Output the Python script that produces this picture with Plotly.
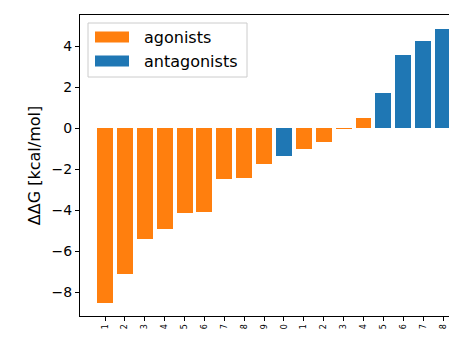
import plotly.graph_objects as go

# Data
tick_labels = ["1", "2", "3", "4", "5", "6", "7", "8", "9", "0",
               "1", "2", "3", "4", "5", "6", "7", "8"]
ddg_values = [-8.54, -7.14, -5.39, -4.93, -4.12, -4.11, -2.50, -2.42, -1.73, -1.36,
              -1.00, -0.68, -0.04, 0.51, 1.69, 3.59, 4.25, 4.83]
ligand_class = ["agonist"] * 9 + ["antagonist"] + ["agonist"] * 4 + ["antagonist"] * 4

positions = list(range(1, len(ddg_values) + 1))
ORANGE = "#ff7f0e"
BLUE = "#1f77b4"
colors = [ORANGE if c == "agonist" else BLUE for c in ligand_class]

fig = go.Figure()
fig.add_trace(go.Bar(
    x=positions, y=ddg_values, width=0.8,
    marker=dict(color=colors, line=dict(width=0)),
    showlegend=False,
))

font_family = "DejaVu Sans"

fig.update_layout(
    width=449, height=337,
    margin=dict(l=80, r=0, t=15, b=21),
    plot_bgcolor="white", paper_bgcolor="white",
    font=dict(family=font_family, color="black"),
    bargap=0,
)
fig.update_xaxes(
    range=[-0.258, 18.30],
    tickmode="array", tickvals=positions, ticktext=tick_labels,
    tickangle=-90, tickfont=dict(size=8, family=font_family, color="black"),
    ticks="outside", ticklen=4, tickcolor="black", tickwidth=1,
    showline=True, linecolor="black", linewidth=1, mirror=True,
    showgrid=False, zeroline=False,
)
fig.update_yaxes(
    range=[-9.17, 5.52],
    tickmode="array", tickvals=[-8, -6, -4, -2, 0, 2, 4],
    tickfont=dict(size=14, family=font_family, color="black"),
    ticks="outside", ticklen=4, tickcolor="black", tickwidth=1,
    showline=True, linecolor="black", linewidth=1, mirror=False,
    showgrid=False, zeroline=False,
    title=dict(text="ΔΔG [kcal/mol]", font=dict(size=16, family=font_family, color="black"), standoff=6),
)

# Custom legend (matplotlib-style) in plot-area (paper) coordinates
def px_x(p):
    return (p - 80) / 369.0

def px_y(p):
    return (316 - p) / 301.0

shapes = [
    dict(type="rect", xref="paper", yref="paper",
         x0=px_x(88), x1=px_x(247), y0=px_y(77), y1=px_y(23),
         line=dict(color="#cccccc", width=1), fillcolor="rgba(255,255,255,0.8)", layer="above"),
    dict(type="rect", xref="paper", yref="paper",
         x0=px_x(95), x1=px_x(129), y0=px_y(42.5), y1=px_y(31.5),
         line=dict(width=0), fillcolor=ORANGE, layer="above"),
    dict(type="rect", xref="paper", yref="paper",
         x0=px_x(95), x1=px_x(129), y0=px_y(66.5), y1=px_y(55.5),
         line=dict(width=0), fillcolor=BLUE, layer="above"),
]
legend_labels = ["agonists", "antagonists"]
annotations = []
for lab, yc in zip(legend_labels, [37.5, 61.5]):
    annotations.append(dict(
        xref="paper", yref="paper", x=px_x(142), y=px_y(yc),
        text=lab, showarrow=False, xanchor="left", yanchor="middle",
        font=dict(size=16, family=font_family, color="black"),
    ))
fig.update_layout(shapes=shapes, annotations=annotations)

fig.write_html("out.html")
